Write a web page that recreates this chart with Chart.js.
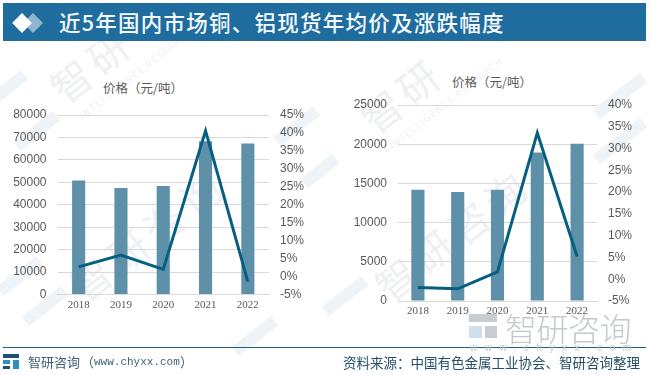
<!DOCTYPE html>
<html>
<head>
<meta charset="utf-8">
<script src="https://cdn.jsdelivr.net/npm/chart.js@4"></script>
<style>
  html, body { margin: 0; padding: 0; background: #fff; }
  #page { position: relative; width: 650px; height: 375px; overflow: hidden; font-family: "Noto Sans CJK SC", sans-serif; }
  #page div, #page canvas { position: absolute; }
  #bar { left: 3px; top: 3px; width: 643px; height: 38px; background: #1f6c9e; }
  #title { left: 59px; top: 5px; color: #f4fafd; font-size: 21.5px; line-height: 34px; font-weight: 500; letter-spacing: 1.25px; white-space: nowrap; }
  .diamond { width: 14px; height: 14px; transform: rotate(45deg); }
  .unit { font-size: 12.5px; color: #595959; white-space: nowrap; }
  .wm { color: #eef0f3; font-size: 40px; font-weight: 400; white-space: nowrap; transform: rotate(-38deg); letter-spacing: 6px; }
  .wm2 { color: #f0f2f4; font-size: 10px; white-space: nowrap; transform: rotate(-38deg); letter-spacing: 1px; }
  .blk { background: #eff4f8; transform: rotate(-38deg); }
</style>
</head>
<body>
<div id="page">
  <div class="blk" style="left:-8px;top:80px;width:36px;height:12px"></div>
  <div class="blk" style="left:12px;top:125px;width:50px;height:12px"></div>
  <div class="blk" style="left:272px;top:120px;width:50px;height:12px"></div>
  <div class="blk" style="left:300px;top:165px;width:40px;height:12px"></div>
  <div class="blk" style="left:590px;top:90px;width:60px;height:12px"></div>
  <div class="blk" style="left:590px;top:135px;width:60px;height:12px"></div>
  <div class="blk" style="left:-5px;top:270px;width:50px;height:12px"></div>
  <div class="blk" style="left:20px;top:300px;width:50px;height:12px"></div>
  <div class="blk" style="left:320px;top:290px;width:50px;height:12px"></div>
  <div class="blk" style="left:230px;top:330px;width:50px;height:12px"></div>

  <div class="wm" style="left:45px;top:35px">智研</div>
  <div class="wm" style="left:355px;top:65px">智研</div>
  <div class="wm" style="left:55px;top:205px">智研咨询</div>
  <div class="wm" style="left:360px;top:205px">智研咨询</div>
  <div class="wm2" style="left:65px;top:65px">INTELLIGENCE RESEARCH</div>
  <div class="wm2" style="left:375px;top:95px">INTELLIGENCE RESEARCH</div>

  <div id="bar"></div>
  <div class="diamond" style="left:26px;top:15.5px;background:#8fb6d1"></div>
  <div class="diamond" style="left:14.5px;top:15.5px;background:#fff"></div>
  <div id="title">近5年国内市场铜、铝现货年均价及涨跌幅度</div>

  <div class="unit" style="left:103px;top:78px">价格（元/吨）</div>
  <div class="unit" style="left:452px;top:72px">价格（元/吨）</div>

  <canvas id="copper" width="325" height="215" style="left:0;top:100px;width:325px;height:215px"></canvas>
  <canvas id="aluminium" width="325" height="240" style="left:325px;top:90px;width:325px;height:240px"></canvas>

  <div style="left:469px;top:314px;width:28px;height:8px;background:#c8cdd3"></div>
  <div style="left:469px;top:326px;width:13px;height:12px;background:#cfe0ec"></div>
  <div style="left:485px;top:326px;width:12px;height:12px;background:#c8cdd3"></div>
  <div style="left:505px;top:307px;font-size:32px;line-height:40px;font-weight:300;color:#c4c9ce;letter-spacing:-0.5px;white-space:nowrap">智研咨询</div>

  <div style="left:3px;top:347px;width:643px;height:1px;background:#1f5f7a"></div>
  <div style="left:470px;top:342px;font-size:10px;line-height:12px;color:#c4c9ce;letter-spacing:7.5px;white-space:nowrap;font-family:'Liberation Sans'">www.chyxx.com</div>
  <div style="left:3px;top:354px;width:16px;height:4px;background:#1f4f78"></div>
  <div style="left:3px;top:360px;width:7px;height:4px;background:#2f8fc4"></div>
  <div style="left:3px;top:366px;width:7px;height:3px;background:#1f4f78"></div>
  <div style="left:13px;top:360px;width:6px;height:9px;background:#2f8fc4"></div>
  <div style="left:28px;top:353px;font-size:13px;line-height:18px;color:#3b6175;white-space:nowrap">智研咨询</div>
  <div style="left:81px;top:353px;font-size:13px;line-height:18px;color:#3b6175;white-space:nowrap">（</div>
  <div style="left:94px;top:353px;font-size:11px;line-height:18px;color:#3b6175;white-space:nowrap;font-family:'Liberation Mono'">www.chyxx.com</div>
  <div style="left:180px;top:353px;font-size:13px;line-height:18px;color:#3b6175;white-space:nowrap">）</div>
  <div style="left:343px;top:353px;font-size:13.5px;line-height:18px;color:#264f66;white-space:nowrap">资料来源：中国有色金属工业协会、智研咨询整理</div>
</div>

<script>
const years = ["2018", "2019", "2020", "2021", "2022"];

const copperPrice = [50800, 47500, 48400, 68300, 67300];
const copperChange = [2.7, 6, 2, 40.6, -1.4];

const aluminiumPrice = [14200, 13900, 14200, 18950, 20050];
const aluminiumChange = [-1.9, -2.2, 1.7, 33.6, 5.2];

const barColor = "#5f90aa";
const lineColor = "#065f80";
const gridColor = "#d9d9d9";
const tickColor = "#595959";

// y scales reserve label height + tick padding above the plot unless cleared
function fitY(s, width) {
    s.width = width;
    s.paddingTop = 0;
    s.paddingBottom = 0;
}

function makeChart(id, prices, changes, opts) {
    return new Chart(document.getElementById(id), {
        data: {
            labels: years,
            datasets: [
                {
                    type: "line",
                    data: changes,
                    yAxisID: "pct",
                    borderColor: lineColor,
                    borderWidth: 3,
                    pointRadius: 0,
                    tension: 0,
                    order: 1
                },
                {
                    type: "bar",
                    data: prices,
                    yAxisID: "price",
                    backgroundColor: barColor,
                    barPercentage: 1,
                    categoryPercentage: opts.barShare,
                    order: 2
                }
            ]
        },
        options: {
            responsive: false,
            animation: false,
            layout: { padding: { top: opts.top, bottom: 0, left: 0, right: 0 } },
            plugins: { legend: { display: false }, tooltip: { enabled: false } },
            scales: {
                x: {
                    grid: { display: false, drawTicks: false },
                    border: { color: gridColor },
                    ticks: { color: tickColor, padding: 4, maxRotation: 0, font: { family: "Liberation Serif", size: 11 } },
                    afterFit: (s) => { s.height = opts.bottom; }
                },
                price: {
                    position: "left",
                    min: 0,
                    max: opts.priceMax,
                    grid: { color: gridColor, drawTicks: false },
                    border: { display: false },
                    ticks: {
                        stepSize: opts.priceStep,
                        color: tickColor,
                        padding: 11,
                        font: { family: "Liberation Sans", size: 12 },
                        callback: (v) => String(v)
                    },
                    afterFit: (s) => fitY(s, opts.left)
                },
                pct: {
                    position: "right",
                    min: -5,
                    max: opts.pctMax,
                    grid: { display: false, drawTicks: false },
                    border: { display: false },
                    ticks: {
                        stepSize: 5,
                        color: tickColor,
                        padding: 11,
                        font: { family: "Liberation Sans", size: 12 },
                        callback: (v) => v + "%"
                    },
                    afterFit: (s) => fitY(s, opts.right)
                }
            }
        }
    });
}

makeChart("copper", copperPrice, copperChange, {
    barShare: 0.31, top: 15, bottom: 20.5, left: 57.5, right: 56,
    priceMax: 80000, priceStep: 10000, pctMax: 45
});

makeChart("aluminium", aluminiumPrice, aluminiumChange, {
    barShare: 0.33, top: 15, bottom: 29, left: 73, right: 53,
    priceMax: 25000, priceStep: 5000, pctMax: 40
});
</script>
</body>
</html>
